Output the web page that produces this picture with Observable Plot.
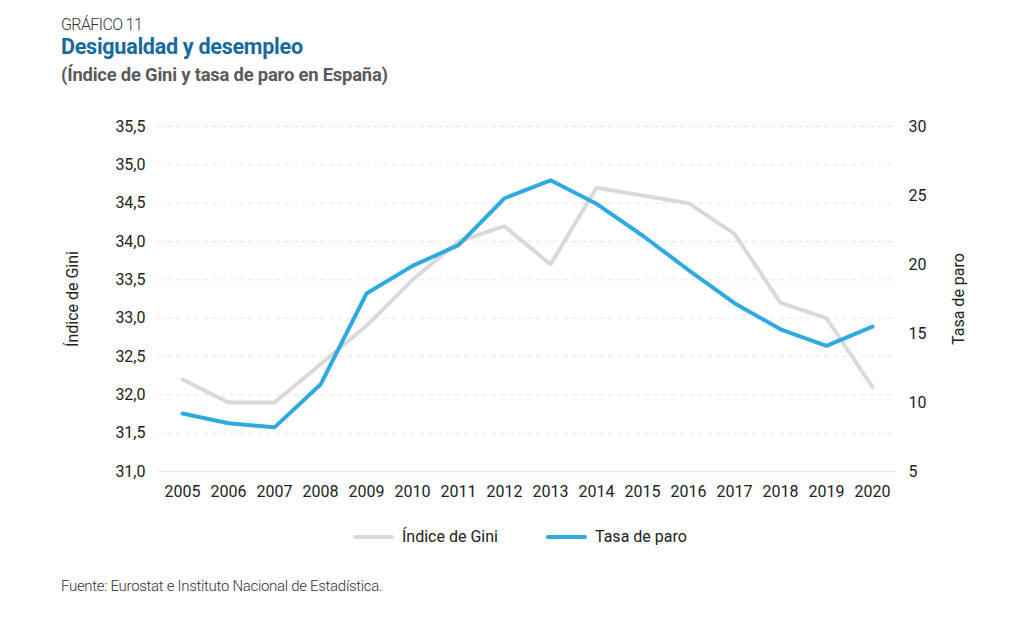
<!DOCTYPE html>
<html>
<head>
<meta charset="utf-8">
<script src="https://cdn.jsdelivr.net/npm/d3@7"></script>
<script src="https://cdn.jsdelivr.net/npm/@observablehq/plot@0.6"></script>
<style>
  body { margin: 0; background: #fff; font-family: Roboto, "Noto Sans", sans-serif; }
  #wrap { position: relative; width: 1010px; height: 618px; }
  .kicker { position: absolute; left: 61px; top: 15px; font-size: 16px; font-weight: 300; color: #333; letter-spacing: -0.6px; }
  .title { position: absolute; left: 61px; top: 34px; font-size: 21.6px; font-weight: 700; color: #17699f; letter-spacing: -0.3px; }
  .subtitle { position: absolute; left: 61px; top: 64px; font-size: 18.4px; font-weight: 700; color: #5a5a5a; letter-spacing: -0.2px; }
  #chart { position: absolute; left: 0; top: 110px; }
  .legend { position: absolute; top: 527px; left: 0; width: 1010px; font-size: 16px; color: #222; }
  .legend .item { position: absolute; display: flex; align-items: center; }
  .legend .sw { width: 41px; height: 4px; border-radius: 2px; margin-right: 8px; }
  .source { position: absolute; left: 61px; top: 577px; font-size: 15px; font-weight: 300; color: #333; letter-spacing: -0.3px; }
</style>
</head>
<body>
<div id="wrap">
  <div class="kicker">GRÁFICO 11</div>
  <div class="title">Desigualdad y desempleo</div>
  <div class="subtitle">(Índice de Gini y tasa de paro en España)</div>
  <div id="chart"></div>
  <div class="legend">
    <div class="item" style="left:353px"><div class="sw" style="background:#d9d9d9"></div><span>Índice de Gini</span></div>
    <div class="item" style="left:546px"><div class="sw" style="background:#2eaae1"></div><span>Tasa de paro</span></div>
  </div>
  <div class="source">Fuente: Eurostat e Instituto Nacional de Estadística.</div>
</div>
<script>
const years = ["2005","2006","2007","2008","2009","2010","2011","2012","2013","2014","2015","2016","2017","2018","2019","2020"];
const gini = [32.2, 31.9, 31.9, 32.4, 32.9, 33.5, 34.0, 34.2, 33.7, 34.7, 34.6, 34.5, 34.1, 33.2, 33.0, 32.1];
const paro = [9.2, 8.5, 8.2, 11.3, 17.9, 19.9, 21.4, 24.8, 26.1, 24.4, 22.1, 19.6, 17.2, 15.3, 14.1, 15.5];
const leftTicks = [31.0, 31.5, 32.0, 32.5, 33.0, 33.5, 34.0, 34.5, 35.0, 35.5];
const rightTicks = [5, 10, 15, 20, 25, 30];

const giniMin = 31, giniMax = 35.5, paroMin = 5, paroMax = 30;
const toLeft = p => giniMin + (p - paroMin) * (giniMax - giniMin) / (paroMax - paroMin);
const fromLeft = g => paroMin + (g - giniMin) * (paroMax - paroMin) / (giniMax - giniMin);

const giniData = years.map((y, i) => ({year: y, value: gini[i]}));
const paroData = years.map((y, i) => ({year: y, value: toLeft(paro[i])}));
const fmt = v => v.toFixed(1).replace(".", ",");

const chart = Plot.plot({
  width: 1010,
  height: 400,
  marginLeft: 158,
  marginRight: 114,
  marginTop: 16,
  marginBottom: 39,
  style: {fontFamily: "Roboto, 'Noto Sans', sans-serif", fontSize: "16px", color: "#222", background: "transparent"},
  x: {type: "point", domain: years, padding: 0.5},
  y: {domain: [giniMin, giniMax]},
  marks: [
    Plot.ruleY(leftTicks.filter(t => t > giniMin), {stroke: "#e6e6e6", strokeWidth: 1, strokeDasharray: "5,4"}),
    Plot.ruleY([giniMin], {stroke: "#e8e8e8", strokeWidth: 1.5}),
    Plot.axisX({tickSize: 0, tickPadding: 14, label: null, fontSize: 16}),
    Plot.axisY(leftTicks, {anchor: "left", tickSize: 0, tickPadding: 13, tickFormat: fmt, label: "Índice de Gini", labelAnchor: "center", labelArrow: "none", labelOffset: 92, fontSize: 16}),
    Plot.axisY(rightTicks.map(toLeft), {anchor: "right", tickSize: 0, tickPadding: 12, tickFormat: v => String(Math.round(fromLeft(v))), label: "Tasa de paro", labelAnchor: "center", labelArrow: "none", labelOffset: 67, fontSize: 16}),
    Plot.line(giniData, {x: "year", y: "value", stroke: "#d9d9d9", strokeWidth: 4, strokeLinejoin: "miter", strokeLinecap: "round"}),
    Plot.line(paroData, {x: "year", y: "value", stroke: "#2eaae1", strokeWidth: 4, strokeLinejoin: "miter", strokeLinecap: "round"})
  ]
});
document.getElementById("chart").appendChild(chart);
</script>
</body>
</html>
